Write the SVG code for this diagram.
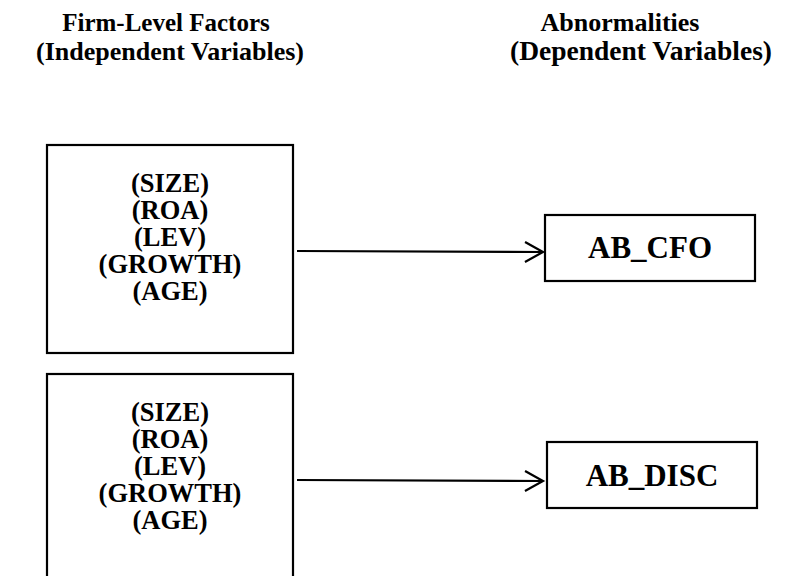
<svg xmlns="http://www.w3.org/2000/svg" width="798" height="576" viewBox="0 0 798 576">
<style>
text{font-family:"Liberation Serif","Times New Roman",serif;font-weight:bold;fill:#000;text-anchor:middle}
.h{font-size:26px}
.v{font-size:26.5px}
.d{font-size:31px}
.box{fill:#fff;stroke:#000;stroke-width:2.2}
.conn{stroke:#000;stroke-width:2.2;fill:none}
</style>
<defs>
<marker id="arr" markerUnits="userSpaceOnUse" markerWidth="24" markerHeight="26" refX="19" refY="11" orient="auto">
<path d="M1,1 L19,11 L1,21" fill="none" stroke="#000" stroke-width="2.2"/>
</marker>
</defs>
<g id="headings">
<text class="h" x="166" y="31" style="font-size:25px">Firm-Level Factors</text>
<text class="h" x="170" y="60">(Independent Variables)</text>
<text class="h" x="620" y="31">Abnormalities</text>
<text class="h" x="641" y="60" style="font-size:27.5px">(Dependent Variables)</text>
</g>
<g id="factors1">
<rect class="box" x="47" y="145" width="246" height="208"/>
<text class="v" x="170" y="192">(SIZE)</text>
<text class="v" x="170" y="219">(ROA)</text>
<text class="v" x="170" y="246">(LEV)</text>
<text class="v" x="170" y="273">(GROWTH)</text>
<text class="v" x="170" y="300">(AGE)</text>
</g>
<g id="factors2">
<rect class="box" x="47" y="374" width="246" height="210"/>
<text class="v" x="170" y="421">(SIZE)</text>
<text class="v" x="170" y="448">(ROA)</text>
<text class="v" x="170" y="475">(LEV)</text>
<text class="v" x="170" y="502">(GROWTH)</text>
<text class="v" x="170" y="529">(AGE)</text>
</g>
<g id="ab_cfo">
<rect class="box" x="545" y="215" width="210" height="66"/>
<text class="d" x="650" y="258">AB_CFO</text>
</g>
<g id="ab_disc">
<rect class="box" x="547" y="442" width="210" height="66"/>
<text class="d" x="652" y="486">AB_DISC</text>
</g>
<g id="connectors">
<line class="conn" x1="297" y1="251" x2="543" y2="252" marker-end="url(#arr)"/>
<line class="conn" x1="297" y1="480" x2="543" y2="481" marker-end="url(#arr)"/>
</g>
</svg>
